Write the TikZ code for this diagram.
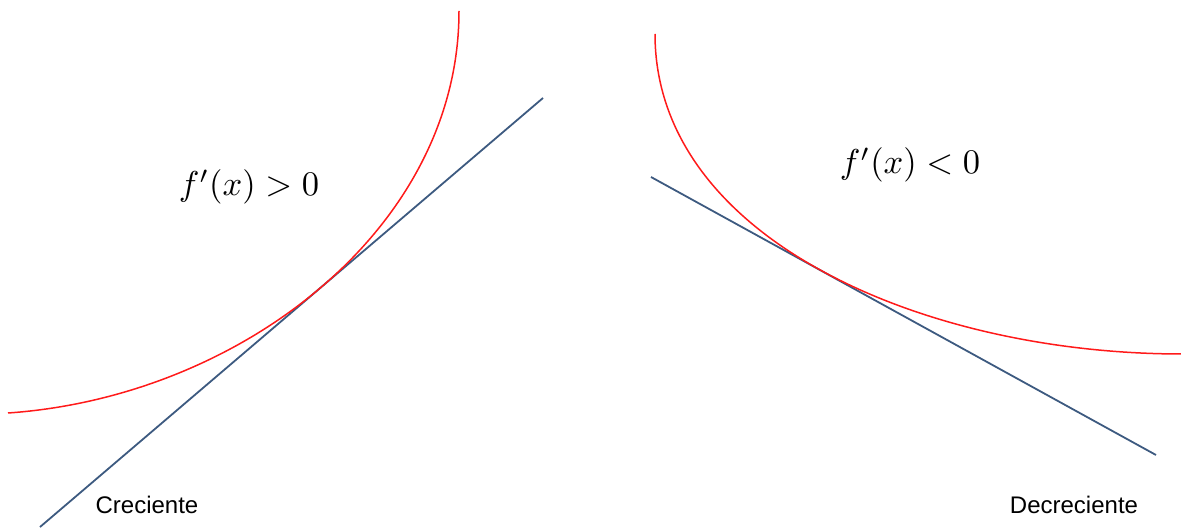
\documentclass[tikz,border=0pt]{standalone}
\usepackage{amsmath}
\usepackage{graphicx}
\usepackage{fontspec}
\setsansfont{Liberation Sans}
\usepackage{tikz}
\definecolor{curvered}{HTML}{FF1A1A}
\definecolor{tanblue} {HTML}{3D5A80}
\newcommand{\bigmath}[1]{\scalebox{3.45}{$#1$}}
\tikzset{
  curve/.style     ={draw=curvered, line width=1.5pt},
  tangent/.style   ={draw=tanblue, line width=1.8pt},
  mathlabel/.style ={anchor=base, inner sep=0pt},
  wordlabel/.style ={anchor=base, inner sep=0pt,
                     font=\sffamily\fontsize{24}{28}\selectfont},
}
\begin{document}
\begin{tikzpicture}[x=1pt,y=-1pt]
    \useasboundingbox (0,0) rectangle (1181,529);

    % increasing function and its tangent
    \coordinate (lt0) at (40,527);
    \coordinate (lt1) at (543,98);
    \coordinate (lc0) at (8,413);
    \coordinate (lc1) at (459,11);
    \draw[tangent] (lt0) -- (lt1);
    \draw[curve] (lc0) .. controls (240,397) and (459,229) .. (lc1);
    \node[mathlabel] (inc)  at (249,196) {\bigmath{f'(x) > 0}};
    \node[wordlabel] (crec) at (147,513) {Creciente};

    % decreasing function and its tangent
    \coordinate (rt0) at (651,177);
    \coordinate (rt1) at (1156,455);
    \coordinate (rc0) at (655,34);
    \coordinate (rc1) at (1181,354);
    \draw[tangent] (rt0) -- (rt1);
    \draw[curve] (rc0) .. controls (655,237) and (920,353.5) .. (rc1);
    \node[mathlabel] (dec)  at (910,174) {\bigmath{f'(x) < 0}};
    \node[wordlabel] (decr) at (1074,513) {Decreciente};
\end{tikzpicture}
\end{document}
